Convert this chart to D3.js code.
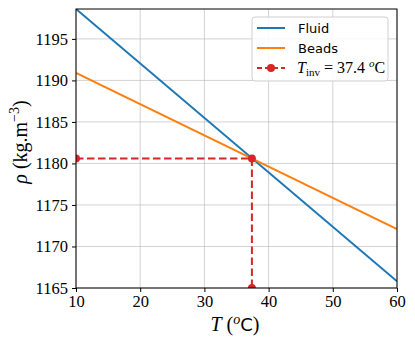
<!DOCTYPE html>
<html lang="en">
<head>
	<meta charset="utf-8">
	<title>Density vs temperature</title>
	<script src="https://cdn.jsdelivr.net/npm/d3@7"></script>
	<style>
		body { margin: 0; background: white; }
		.tick text { font-family: "Liberation Serif", serif; font-size: 16.5px; fill: #000; }
		.grid line { stroke: #b0b0b0; stroke-opacity: 0.7; stroke-width: 0.8; }
	</style>
</head>
<body>
	<script>
		var w = 415;
		var h = 346;
		var margin = { top: 9, right: 18, bottom: 58, left: 76 };

		// data
		var temps = [10, 60];
		var fluid = [1198.6, 1165.8];
		var beads = [1190.9, 1172.1];
		var tInv = 37.4;
		var rhoInv = 1180.6;
		var xTicks = [10, 20, 30, 40, 50, 60];
		var yTicks = [1165, 1170, 1175, 1180, 1185, 1190, 1195];

		var svg = d3.select("body").append("svg")
			.attr("width", w).attr("height", h);

		var x = d3.scaleLinear().domain([10, 60]).range([margin.left, w - margin.right]);
		var y = d3.scaleLinear().domain([1165, 1198.6]).range([h - margin.bottom, margin.top]);

		svg.append("clipPath").attr("id", "clip")
			.append("rect")
			.attr("x", margin.left).attr("y", margin.top)
			.attr("width", x.range()[1] - margin.left)
			.attr("height", y.range()[0] - margin.top);

		// grid
		svg.append("g").attr("class", "grid")
			.selectAll("line").data(xTicks).enter().append("line")
			.attr("x1", x).attr("x2", x)
			.attr("y1", y.range()[0]).attr("y2", y.range()[1]);
		svg.append("g").attr("class", "grid")
			.selectAll("line").data(yTicks).enter().append("line")
			.attr("y1", y).attr("y2", y)
			.attr("x1", x.range()[0]).attr("x2", x.range()[1]);

		var plot = svg.append("g").attr("clip-path", "url(#clip)");
		var line = d3.line().x(function(d) { return x(d[0]); }).y(function(d) { return y(d[1]); });

		plot.append("path").datum(d3.zip(temps, fluid))
			.attr("d", line).attr("fill", "none")
			.attr("stroke", "#1f77b4").attr("stroke-width", 2);
		plot.append("path").datum(d3.zip(temps, beads))
			.attr("d", line).attr("fill", "none")
			.attr("stroke", "#ff7f0e").attr("stroke-width", 2);

		var inv = [[10, rhoInv], [tInv, rhoInv], [tInv, 1165]];
		plot.append("path").datum(inv)
			.attr("d", line).attr("fill", "none")
			.attr("stroke", "#d62728").attr("stroke-width", 2)
			.attr("stroke-dasharray", "7.5,3.5");
		plot.selectAll("circle").data(inv).enter().append("circle")
			.attr("cx", function(d) { return x(d[0]); })
			.attr("cy", function(d) { return y(d[1]); })
			.attr("r", 4).attr("fill", "#d62728");

		// axes
		var xAxis = svg.append("g")
			.attr("transform", "translate(0," + y.range()[0] + ")")
			.call(d3.axisBottom(x).tickValues(xTicks).tickSize(4).tickPadding(3).tickFormat(d3.format("d")));
		var yAxis = svg.append("g")
			.attr("transform", "translate(" + margin.left + ",0)")
			.call(d3.axisLeft(y).tickValues(yTicks).tickSize(4).tickPadding(4).tickFormat(d3.format("d")));
		xAxis.select(".domain").remove();
		yAxis.select(".domain").remove();

		// frame
		svg.append("rect")
			.attr("x", margin.left).attr("y", margin.top)
			.attr("width", x.range()[1] - margin.left)
			.attr("height", y.range()[0] - margin.top)
			.attr("fill", "none").attr("stroke", "#000").attr("stroke-width", 1);

		// axis labels
		var xl = svg.append("text")
			.attr("x", 235).attr("y", 331)
			.attr("text-anchor", "middle")
			.style("font-family", "Liberation Serif, serif").style("font-size", "20px");
		xl.append("tspan").style("font-style", "italic").text("T");
		xl.append("tspan").text("  (");
		xl.append("tspan").style("font-style", "italic").attr("dy", -7).style("font-size", "14px").text("o");
		xl.append("tspan").attr("dy", 7).style("font-family", "DejaVu Sans, sans-serif").style("font-size", "18px").text("C");
		xl.append("tspan").text(")");

		var yl = svg.append("text")
			.attr("transform", "translate(27,142) rotate(-90)")
			.attr("text-anchor", "middle")
			.style("font-family", "Liberation Serif, serif").style("font-size", "20px");
		yl.append("tspan").style("font-style", "italic").text("ρ");
		yl.append("tspan").text("  (kg.m");
		yl.append("tspan").attr("dy", -8).style("font-size", "14px").text("−3");
		yl.append("tspan").attr("dy", 8).text(")");

		// legend
		var lg = svg.append("g").attr("transform", "translate(252,17)");
		lg.append("rect")
			.attr("width", 136).attr("height", 64).attr("rx", 3)
			.attr("fill", "white").attr("fill-opacity", 0.85)
			.attr("stroke", "#d0d0d0");
		var items = [
			{ name: "Fluid", color: "#1f77b4", dash: null },
			{ name: "Beads", color: "#ff7f0e", dash: null },
			{ name: "inv", color: "#d62728", dash: "5,3" }
		];
		items.forEach(function(it, i) {
			var yy = 11 + i * 20;
			lg.append("line")
				.attr("x1", 5).attr("x2", 33).attr("y1", yy).attr("y2", yy)
				.attr("stroke", it.color).attr("stroke-width", 2)
				.attr("stroke-dasharray", it.dash);
			if (it.dash) {
				lg.append("circle").attr("cx", 19).attr("cy", yy).attr("r", 4).attr("fill", it.color);
				var t = lg.append("text").attr("x", 45).attr("y", yy + 5)
					.style("font-family", "Liberation Serif, serif").style("font-size", "16px");
				t.append("tspan").style("font-style", "italic").text("T");
				t.append("tspan").attr("dy", 3).style("font-size", "11px").text("inv");
				t.append("tspan").attr("dy", -3).text(" = 37.4 ");
				t.append("tspan").attr("dy", -6).style("font-style", "italic").style("font-size", "11px").text("o");
				t.append("tspan").attr("dy", 6).text("C");
			} else {
				lg.append("text").attr("x", 46).attr("y", yy + 5)
					.style("font-family", "DejaVu Sans, sans-serif").style("font-size", "13px")
					.text(it.name);
			}
		});
	</script>
</body>
</html>
